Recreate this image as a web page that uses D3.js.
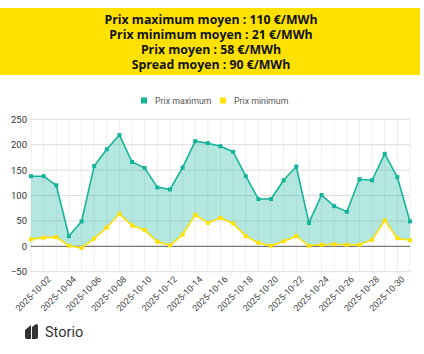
<!DOCTYPE html>
<html>
<head>
<meta charset="utf-8">
<script src="https://cdn.jsdelivr.net/npm/d3@7"></script>
<style>
  body { margin: 0; background: #fff; }
  svg { display: block; font-family: "Open Sans", "Noto Sans", sans-serif; }
</style>
</head>
<body>
<div id="chart"></div>
<script>
const titleLines = [
  "Prix maximum moyen : 110 €/MWh",
  "Prix minimum moyen : 21 €/MWh",
  "Prix moyen : 58 €/MWh",
  "Spread moyen : 90 €/MWh",
];
const dates = d3.range(1, 32).map((d) => `2025-10-${String(d).padStart(2, "0")}`);
const maxPrices = [138, 138, 120, 20, 49, 158, 191, 219, 166, 154, 116, 112, 155, 207, 203, 197,
  186, 138, 93, 93, 130, 157, 46, 101, 79, 68, 132, 130, 182, 136, 49];
const minPrices = [14, 17, 18, 1, -3, 15, 37, 64, 41, 32, 9, 2, 23, 62, 46, 56,
  45, 20, 7, 1, 10, 20, 1, 3, 4, 3, 3, 13, 51, 16, 12];
const yTicks = [-50, 0, 50, 100, 150, 200, 250];
const seriesNames = ["Prix maximum", "Prix minimum"];

const W = 424, H = 354;
const teal = "#14b39a", yellow = "#ffe100";
const pad = { l: 31, r: 14, t: 119.3, b: 354 - 271.7 };

const svg = d3.select("#chart").append("svg").attr("width", W).attr("height", H);

// banner
svg.append("rect").attr("x", 0).attr("y", 8).attr("width", 420).attr("height", 67).attr("fill", yellow);
svg.append("g").selectAll("text").data(titleLines).enter().append("text")
  .attr("x", 211).attr("y", (d, i) => 23.5 + i * 15)
  .attr("text-anchor", "middle").attr("font-size", 12.3).attr("font-weight", 700).attr("fill", "#111")
  .text((d) => d);

const x = d3.scalePoint().domain(dates).range([pad.l, W - pad.r]);
const y = d3.scaleLinear().domain([-50, 250]).range([H - pad.b, pad.t]);

// grid
svg.append("g").selectAll("line").data(dates).enter().append("line")
  .attr("x1", (d) => x(d)).attr("x2", (d) => x(d))
  .attr("y1", pad.t).attr("y2", H - pad.b)
  .attr("stroke", "#eeeeee").attr("stroke-width", 1);
svg.append("g").selectAll("line").data(yTicks).enter().append("line")
  .attr("x1", pad.l).attr("x2", W - pad.r)
  .attr("y1", (d) => y(d)).attr("y2", (d) => y(d))
  .attr("stroke", (d) => (d === 0 ? "#777" : "#dddddd")).attr("stroke-width", (d) => (d === 0 ? 1.2 : 1));

// y axis
const yAxis = d3.axisLeft(y).tickValues(yTicks).tickSize(0).tickPadding(4);
const yg = svg.append("g").attr("transform", `translate(${pad.l},0)`).call(yAxis);
yg.select(".domain").remove();
yg.selectAll("text").attr("font-size", 9.5).attr("fill", "#333").attr("font-family", "Roboto, sans-serif");

// x axis
const xAxis = d3.axisBottom(x).tickValues(dates.filter((d, i) => i % 2 === 1)).tickSize(0);
const xg = svg.append("g").attr("transform", `translate(0,${H - pad.b})`).call(xAxis);
xg.select(".domain").remove();
xg.selectAll("text")
  .attr("font-size", 9).attr("fill", "#444").attr("font-family", "Roboto, sans-serif")
  .attr("text-anchor", "end")
  .attr("transform", "translate(5,6) rotate(-45)")
  .attr("dy", "0.35em").attr("y", 0);

const rows = dates.map((d, i) => ({ date: d, max: maxPrices[i], min: minPrices[i] }));

// range area
svg.append("path").datum(rows)
  .attr("fill", teal).attr("fill-opacity", 0.32)
  .attr("d", d3.area().x((d) => x(d.date)).y0((d) => y(d.min)).y1((d) => y(d.max)));

const series = [
  { key: "max", color: teal },
  { key: "min", color: yellow },
];
series.forEach((s) => {
  svg.append("path").datum(rows)
    .attr("fill", "none").attr("stroke", s.color).attr("stroke-width", 1.6)
    .attr("d", d3.line().x((d) => x(d.date)).y((d) => y(d[s.key])));
  svg.append("g").selectAll("rect").data(rows).enter().append("rect")
    .attr("x", (d) => x(d.date) - 2).attr("y", (d) => y(d[s.key]) - 2)
    .attr("width", 4).attr("height", 4).attr("fill", s.color);
});

// legend
const legend = svg.append("g").selectAll("g").data(seriesNames).enter().append("g")
  .attr("transform", (d, i) => `translate(${141 + i * 79},100.5)`);
legend.append("rect").attr("x", 0).attr("y", -3).attr("width", 6).attr("height", 6)
  .attr("fill", (d, i) => series[i].color);
legend.append("text").attr("x", 14).attr("dy", "0.35em").attr("font-size", 8.8).attr("fill", "#555")
  .attr("font-family", "Roboto, sans-serif").text((d) => d);

// logo
const logo = svg.append("g").attr("transform", "translate(25,324)");
logo.append("path").attr("d", "M0,6 L6,1 L6,15 L2,15 Q0,15 0,13 Z").attr("fill", "#333");
logo.append("path").attr("d", "M7,3 L11,0 Q13,0 13,2 L13,13 Q13,15 11,15 L7,15 Z").attr("fill", "#333");
svg.append("text").attr("x", 45).attr("y", 337).attr("font-size", 14.5).attr("fill", "#333")
  .attr("font-family", "Roboto, sans-serif").text("Storio");
</script>
</body>
</html>
